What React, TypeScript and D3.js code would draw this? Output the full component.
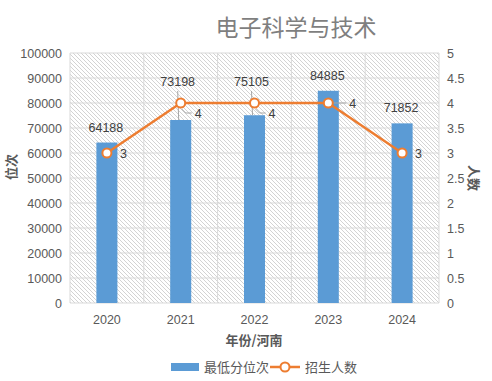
import React from "react";
import * as d3 from "d3";

const title = "电子科学与技术";
const years = ["2020", "2021", "2022", "2023", "2024"];
const minRank = [64188, 73198, 75105, 84885, 71852];
const enrollment = [3, 4, 4, 4, 3];
const leftTicks = [0, 10000, 20000, 30000, 40000, 50000, 60000, 70000, 80000, 90000, 100000];
const rightTicks = [0, 0.5, 1, 1.5, 2, 2.5, 3, 3.5, 4, 4.5, 5];
const barLegend = "最低分位次";
const lineLegend = "招生人数";
const xTitle = "年份/河南";
const yLeftTitle = "位次";
const yRightTitle = "人数";

const W = 492, H = 381;
const L = 70, R = 439, T = 53, B = 303;
const CJK = "'Noto Sans CJK SC', 'Noto Sans', sans-serif";
const NUM = "'Liberation Sans', 'Noto Sans', sans-serif";
const BLUE = "#5b9bd5";
const ORANGE = "#ed7d31";
const GRID = "#d9d9d9";
const TXT = "#595959";

export default function App() {
  const xGrid = d3.scaleBand<string>().domain(years).range([L, R]).padding(0);
  const x = d3.scaleBand<string>().domain(years).range([L, R]).paddingInner(0.715).paddingOuter(0.3575);
  const yL = d3.scaleLinear().domain([0, 100000]).range([B, T]);
  const yR = d3.scaleLinear().domain([0, 5]).range([B, T]);
  const cx = (y: string) => (x(y) as number) + x.bandwidth() / 2;
  const line = d3.line<number>().x((_, i) => cx(years[i])).y((d) => yR(d));

  const raised = [false, true, true, false, false];

  return (
    <svg width={W} height={H} style={{ position: "absolute", left: 0, top: 0 }}>
      <defs>
        <pattern id="hatch" width="4" height="4" patternUnits="userSpaceOnUse">
          <path d="M-1,-1 L5,5 M3,-1 L5,1 M-1,3 L1,5" stroke="#c8c8c8" strokeWidth="0.8" />
        </pattern>
      </defs>
      <rect x={0} y={0} width={W} height={H} fill="#fff" />
      <text x={296} y={36} textAnchor="middle" fontFamily={CJK} fontSize={23} fill="#7f7f7f">{title}</text>

      <rect x={L} y={T} width={R - L} height={B - T} fill="url(#hatch)" />
      {leftTicks.map((t) => (
        <line key={"h" + t} x1={L} x2={R} y1={yL(t)} y2={yL(t)} stroke={GRID} strokeWidth={1} />
      ))}
      {years.map((y) => (
        <line key={"v" + y} x1={xGrid(y) as number} x2={xGrid(y) as number} y1={T} y2={B} stroke={GRID} strokeWidth={1} />
      ))}
      <line x1={R} x2={R} y1={T} y2={B} stroke={GRID} strokeWidth={1} />

      {leftTicks.map((t) => (
        <text key={"lt" + t} x={62} y={yL(t) + 4.5} textAnchor="end" fontFamily={NUM} fontSize={12.5} fill={TXT}>{t}</text>
      ))}
      {rightTicks.map((t) => (
        <text key={"rt" + t} x={447} y={yR(t) + 4.5} textAnchor="start" fontFamily={NUM} fontSize={12.5} fill={TXT}>{t}</text>
      ))}
      {years.map((y) => (
        <text key={"xt" + y} x={xGrid(y)! + xGrid.bandwidth() / 2} y={324} textAnchor="middle" fontFamily={NUM} fontSize={12.5} fill={TXT}>{y}</text>
      ))}

      {years.map((y, i) => (
        <rect key={"b" + y} x={x(y)} y={yL(minRank[i])} width={x.bandwidth()} height={B - yL(minRank[i])} fill={BLUE} />
      ))}

      {years.map((y, i) => {
        const top = yL(minRank[i]);
        if (raised[i]) {
          const lx = cx(y) - 3;
          const base = 86;
          return (
            <g key={"bl" + y}>
              <line x1={lx} x2={lx + 1} y1={base + 5} y2={top} stroke="#a6a6a6" strokeWidth={1} />
              <text x={lx} y={base} textAnchor="middle" fontFamily={NUM} fontSize={12.5} fill="#404040">{minRank[i]}</text>
            </g>
          );
        }
        return (
          <text key={"bl" + y} x={cx(y) - 1} y={top - 11} textAnchor="middle" fontFamily={NUM} fontSize={12.5} fill="#404040">{minRank[i]}</text>
        );
      })}

      <path d={line(enrollment) || ""} fill="none" stroke={ORANGE} strokeWidth={2.5} strokeLinejoin="round" />

      {years.map((y, i) => {
        const px = cx(y), py = yR(enrollment[i]);
        if (i === 1 || i === 2) {
          return (
            <g key={"ll" + y}>
              <polyline points={`${px + 1},${py + 6} ${px + 5},${py + 10} ${px + 11},${py + 10}`} fill="none" stroke="#a6a6a6" strokeWidth={1} />
              <text x={px + 14} y={py + 15} fontFamily={NUM} fontSize={12.5} fill="#404040">{enrollment[i]}</text>
            </g>
          );
        }
        if (i === 3) {
          return (
            <g key={"ll" + y}>
              <line x1={px + 5} x2={px + 18} y1={py} y2={py} stroke="#a6a6a6" strokeWidth={1} />
              <text x={px + 21} y={py + 4.5} fontFamily={NUM} fontSize={12.5} fill="#404040">{enrollment[i]}</text>
            </g>
          );
        }
        return (
          <text key={"ll" + y} x={px + 13} y={py + 4.5} fontFamily={NUM} fontSize={12.5} fill="#404040">{enrollment[i]}</text>
        );
      })}

      {years.map((y, i) => (
        <circle key={"c" + y} cx={cx(y)} cy={yR(enrollment[i])} r={4.5} fill="#fff" stroke={ORANGE} strokeWidth={2} />
      ))}

      <text transform={`translate(15.5,167) rotate(-90)`} textAnchor="middle" fontFamily={CJK} fontSize={13} fontWeight="bold" fill={TXT}>{yLeftTitle}</text>
      <text transform={`translate(469,178) rotate(90)`} textAnchor="middle" fontFamily={CJK} fontSize={13} fontWeight="bold" fill={TXT}>{yRightTitle}</text>
      <text x={254} y={345} textAnchor="middle" fontFamily={CJK} fontSize={13} fontWeight="bold" fill={TXT}>{xTitle}</text>

      <rect x={171} y={363} width={28} height={8} fill={BLUE} />
      <text x={204} y={372} fontFamily={CJK} fontSize={13} fill={TXT}>{barLegend}</text>
      <line x1={270} x2={300} y1={367} y2={367} stroke={ORANGE} strokeWidth={2.5} />
      <circle cx={285} cy={367} r={4.5} fill="#fff" stroke={ORANGE} strokeWidth={2} />
      <text x={305} y={372} fontFamily={CJK} fontSize={13} fill={TXT}>{lineLegend}</text>
    </svg>
  );
}
